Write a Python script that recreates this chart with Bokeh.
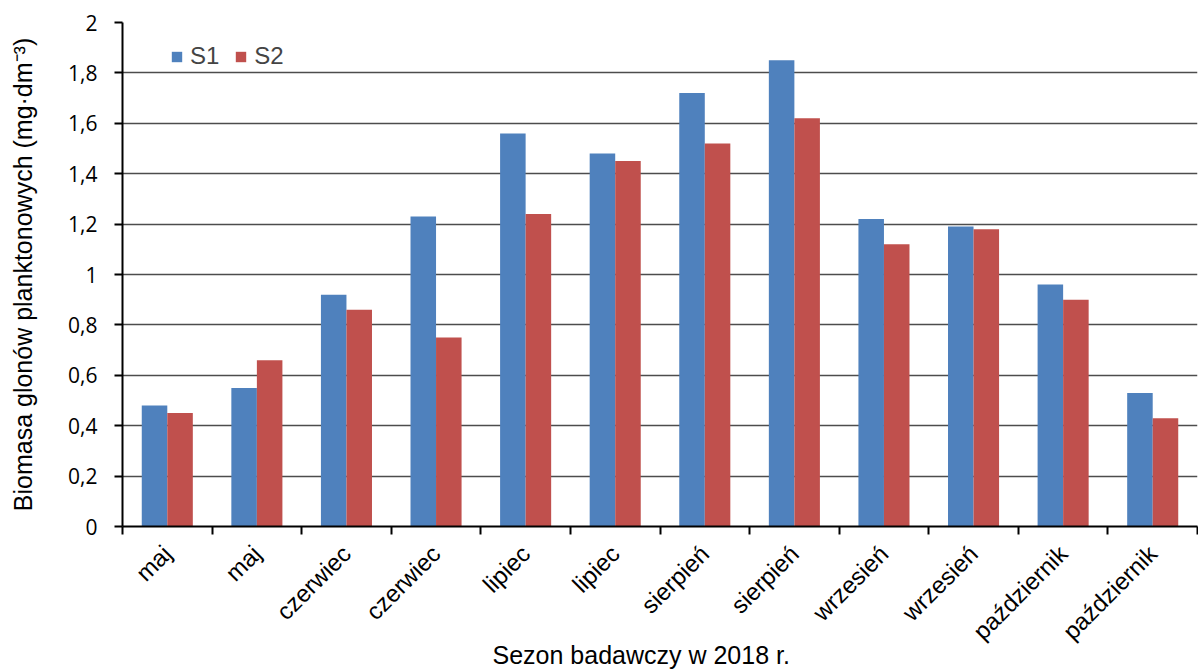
import math
from bokeh.plotting import figure
from bokeh.models import FixedTicker, Range1d, Legend, LegendItem, ColumnDataSource, Title
from bokeh.embed import file_html
from bokeh.resources import INLINE

months = ["maj", "maj", "czerwiec", "czerwiec", "lipiec", "lipiec",
          "sierpień", "sierpień", "wrzesień", "wrzesień", "październik", "październik"]
s1 = [0.48, 0.55, 0.92, 1.23, 1.56, 1.48, 1.72, 1.85, 1.22, 1.19, 0.96, 0.53]
s2 = [0.45, 0.66, 0.86, 0.75, 1.24, 1.45, 1.52, 1.62, 1.12, 1.18, 0.90, 0.43]
y_ticks = [0, 0.2, 0.4, 0.6, 0.8, 1.0, 1.2, 1.4, 1.6, 1.8, 2.0]
y_tick_labels = ["0", "0,2", "0,4", "0,6", "0,8", "1", "1,2", "1,4", "1,6", "1,8", "2"]
x_title = "Sezon badawczy w 2018 r."
y_title = "Biomasa glonów planktonowych (mg·dm⁻³)"

FONT = "Liberation Sans"
TICKFONT = "Open Sans"
C1 = "#4F81BD"
C2 = "#C0504D"
bw = 0.285

n = len(months)
centers = [i + 0.5 for i in range(n)]
src = ColumnDataSource(dict(
    x1=[c - bw / 2 for c in centers],
    x2=[c + bw / 2 for c in centers],
    s1=s1, s2=s2,
))

p = figure(width=1198, height=671, output_backend="svg", toolbar_location=None,
           x_range=Range1d(0, n), y_range=Range1d(0, 2))
p.min_border_left = 122
p.min_border_right = 1
p.min_border_top = 22
p.min_border_bottom = 145
p.outline_line_color = None
p.background_fill_color = "white"
p.border_fill_color = "white"

r1 = p.vbar(x="x1", top="s1", width=bw, source=src, fill_color=C1, line_color=None)
r2 = p.vbar(x="x2", top="s2", width=bw, source=src, fill_color=C2, line_color=None)

# x axis
xa = p.xaxis[0]
xa.ticker = FixedTicker(ticks=centers, minor_ticks=list(range(n + 1)))
xa.major_label_overrides = {c: m for c, m in zip(centers, months)}
xa.major_tick_out = 0
xa.major_tick_in = 0
xa.minor_tick_out = 8
xa.minor_tick_in = 0
xa.minor_tick_line_color = "black"
xa.minor_tick_line_width = 2
xa.axis_line_color = "black"
xa.axis_line_width = 2
xa.major_label_orientation = math.pi / 4
xa.major_label_text_font = FONT
xa.major_label_text_font_size = "24px"
xa.major_label_text_color = "black"
xa.major_label_standoff = 15

# y axis
ya = p.yaxis[0]
ya.ticker = FixedTicker(ticks=y_ticks, minor_ticks=[])
ya.major_label_overrides = {t: l for t, l in zip(y_ticks, y_tick_labels)}
ya.major_tick_out = 8
ya.major_tick_in = 0
ya.major_tick_line_color = "black"
ya.major_tick_line_width = 2
ya.axis_line_color = "black"
ya.axis_line_width = 2
ya.major_label_text_font = TICKFONT
ya.major_label_text_font_size = "21px"
ya.major_label_text_color = "black"
ya.major_label_standoff = 17
ya.axis_label = y_title
ya.axis_label_text_font = FONT
ya.axis_label_text_font_size = "25px"
ya.axis_label_text_font_style = "normal"
ya.axis_label_text_color = "black"
ya.axis_label_standoff = 28

p.xgrid.grid_line_color = None
p.ygrid.ticker = FixedTicker(ticks=y_ticks)
p.ygrid.grid_line_color = "#4d4d4d"
p.ygrid.grid_line_width = 1.5

xt = Title(text=x_title, align="left", vertical_align="top", offset=370,
           text_font=FONT, text_font_size="25px", text_font_style="normal",
           text_color="black", standoff=-34)
p.add_layout(xt, "below")

legend = Legend(items=[LegendItem(label="S1", renderers=[r1]),
                       LegendItem(label="S2", renderers=[r2])],
                orientation="horizontal", location=(48, 456))
legend.background_fill_alpha = 0
legend.border_line_color = None
legend.label_text_font = FONT
legend.label_text_font_size = "24px"
legend.glyph_width = 13
legend.glyph_height = 13
legend.label_standoff = 7
legend.spacing = 15
legend.padding = 0
legend.margin = 0
p.add_layout(legend, "center")

open("out.html", "w").write(file_html(p, INLINE))
